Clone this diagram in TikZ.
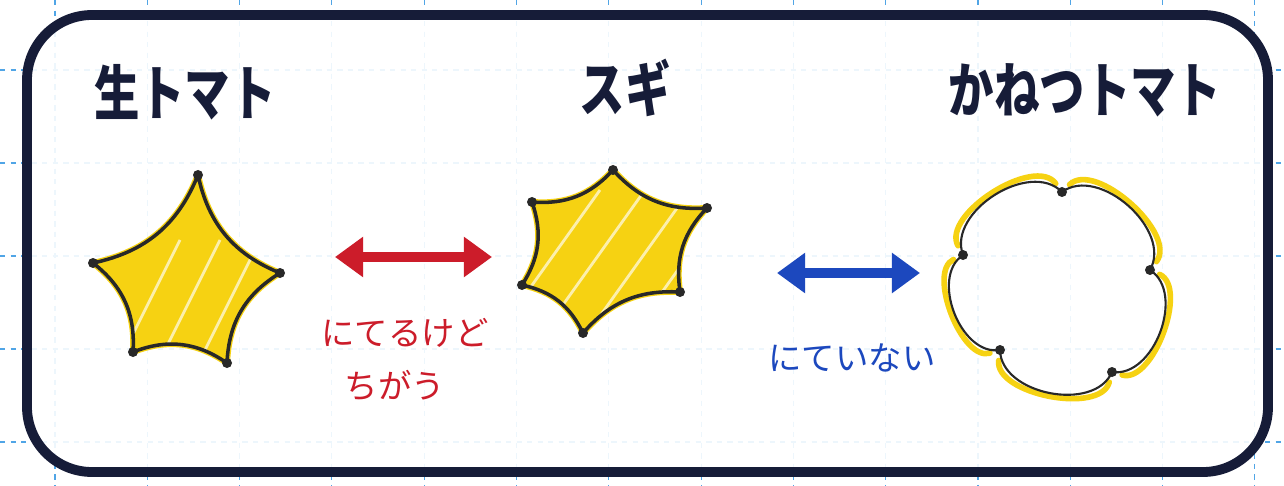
\documentclass[tikz,border=0pt]{standalone}
\usepackage{fontspec}
\newfontfamily\jptitle[FakeStretch=0.76]{Noto Sans CJK JP}
\newfontfamily\jpnote{Noto Sans CJK JP}
\usetikzlibrary{arrows.meta}
\definecolor{navy}{RGB}{22,28,56}
\definecolor{marker}{RGB}{246,210,18}
\definecolor{pencil}{RGB}{40,40,40}
\definecolor{redpen}{RGB}{204,28,42}
\definecolor{bluepen}{RGB}{28,72,190}
\definecolor{gridblue}{RGB}{80,165,230}

\begin{document}
\begin{tikzpicture}[x=0.02cm,y=-0.02cm,
    title/.style={font=\jptitle\bfseries\fontsize{34}{34}\selectfont, text=navy},
    note/.style={font=\jpnote\fontsize{19}{19}\selectfont},
    outline/.style={draw=pencil, line width=2pt, line join=round},
    yellow/.style={fill=marker, draw=marker, line width=3.5pt, line join=round},
    streak/.style={draw=marker!35!white, line width=1.6pt},
    vertex/.style={fill=pencil},
    pen/.style={line width=5.6pt, {Triangle[length=16pt,width=22pt]}-{Triangle[length=16pt,width=22pt]}}]
    \useasboundingbox (0,0) rectangle (1284,486);
    \fill[white] (0,0) rectangle (1284,486);

    % grid paper
    \foreach \gx in {55,147.3,...,1260} \draw[gridblue, dashed, line width=0.6pt] (\gx,0) -- (\gx,486);
    \foreach \gy in {70,163,...,486} \draw[gridblue, dashed, line width=0.6pt] (0,\gy) -- (1284,\gy);
    \fill[white, opacity=0.9, rounded corners=1.3cm] (27,15) rectangle (1268,472);
    \draw[navy, line width=5.6pt, rounded corners=1.3cm] (27,15) rectangle (1268,472);

    % titles
    \node[title] (nama) at (185,92) {生トマト};
    \node[title] (sugi) at (625,88) {スギ};
    \node[title] (kanetsu) at (1085,90) {かねつトマト};

    % raw tomato: five pointed star
    \path[yellow] (198,175) to[bend right=28] (280,273) to[bend right=28] (227,363)
        to[bend right=28] (133,352) to[bend right=28] (93,263) to[bend right=28] (198,175) -- cycle;
    \begin{scope}
        \clip (198,175) to[bend right=28] (280,273) to[bend right=28] (227,363)
            to[bend right=28] (133,352) to[bend right=28] (93,263) to[bend right=28] (198,175) -- cycle;
        \foreach \s in {0,40,...,240} \draw[streak] (120+\s,360) -- (60+\s+120,240);
    \end{scope}
    \draw[outline] (198,175) to[bend right=28] (280,273) to[bend right=28] (227,363)
        to[bend right=28] (133,352) to[bend right=28] (93,263) to[bend right=28] (198,175) -- cycle;
    \foreach \p in {(198,175),(280,273),(227,363),(133,352),(93,263)} \fill[vertex] \p circle (5);

    % sugi: six pointed star
    \path[yellow] (613,170) to[bend right=26] (707,208) to[bend right=26] (680,292) to[bend right=26] (583,333)
        to[bend right=26] (522,285) to[bend right=26] (532,202) to[bend right=26] (613,170) -- cycle;
    \begin{scope}
        \clip (613,170) to[bend right=26] (707,208) to[bend right=26] (680,292) to[bend right=26] (583,333)
            to[bend right=26] (522,285) to[bend right=26] (532,202) to[bend right=26] (613,170) -- cycle;
        \foreach \s in {0,45,...,270} \draw[streak] (500+\s,330) -- (600+\s,190);
    \end{scope}
    \draw[outline] (613,170) to[bend right=26] (707,208) to[bend right=26] (680,292) to[bend right=26] (583,333)
        to[bend right=26] (522,285) to[bend right=26] (532,202) to[bend right=26] (613,170) -- cycle;
    \foreach \p in {(613,170),(707,208),(680,292),(583,333),(522,285),(532,202)} \fill[vertex] \p circle (5);

    % heated tomato: flower
    \draw[marker, line width=3.2pt, line cap=round, shorten <=6, shorten >=6]
        (1062,192) to[bend left=86] (1150,270);
    \draw[marker, line width=3.2pt, line cap=round, shorten <=6, shorten >=6]
        (1150,270) to[bend left=86] (1112,372);
    \draw[marker, line width=3.2pt, line cap=round, shorten <=6, shorten >=6]
        (1112,372) to[bend left=86] (1000,350);
    \draw[marker, line width=3.2pt, line cap=round, shorten <=6, shorten >=6]
        (1000,350) to[bend left=86] (963,255);
    \draw[marker, line width=3.2pt, line cap=round, shorten <=6, shorten >=6]
        (963,255) to[bend left=86] (1062,192);
    \draw[pencil, line width=1.2pt] (1062,192) to[bend left=78] (1150,270) to[bend left=78] (1112,372)
        to[bend left=78] (1000,350) to[bend left=78] (963,255) to[bend left=78] (1062,192);
    \foreach \p in {(1062,192),(1150,270),(1112,372),(1000,350),(963,255)} \fill[vertex] \p circle (5);

    % arrows
    \coordinate (redL) at (335,257);
    \coordinate (redR) at (492,257);
    \coordinate (blueL) at (777,273);
    \coordinate (blueR) at (920,273);
    \draw[pen, redpen] (redL) -- (redR);
    \draw[pen, bluepen] (blueL) -- (blueR);

    % notes
    \node[note, text=redpen] (niteru) at (405,333) {にてるけど};
    \node[note, text=redpen] (chigau) at (395,385) {ちがう};
    \node[note, text=bluepen] (niteinai) at (852,358) {にていない};
\end{tikzpicture}
\end{document}
